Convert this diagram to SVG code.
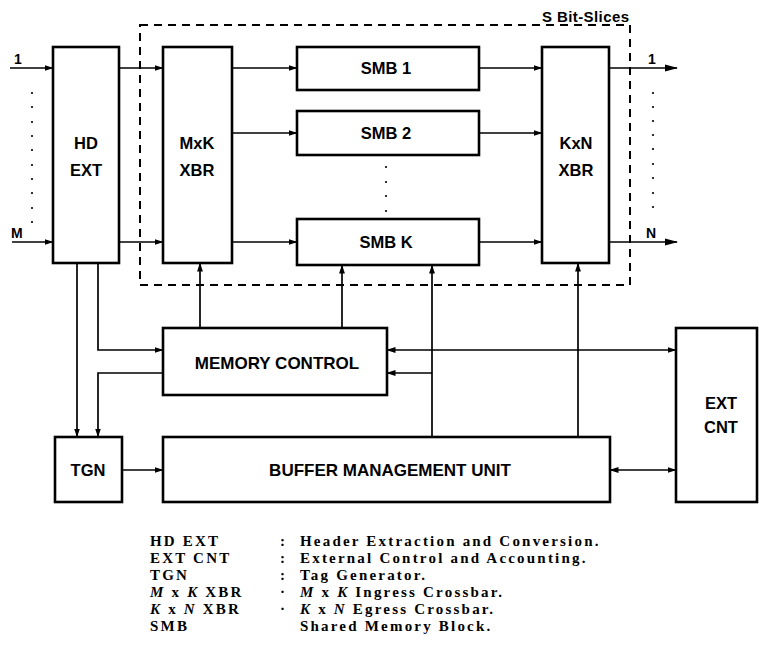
<svg xmlns="http://www.w3.org/2000/svg" width="759" height="647" viewBox="0 0 759 647">
<style>
.box{fill:#fff;stroke:#000;stroke-width:2.6}
.lbl{font-family:"Liberation Sans",Arial,sans-serif;font-weight:bold;font-size:16.5px;fill:#000;text-anchor:middle}
.io{font-family:"Liberation Sans",Arial,sans-serif;font-weight:bold;font-size:14px;fill:#000}
.ln{fill:none;stroke:#000;stroke-width:1.7}
.arr{marker-end:url(#ah)}
.bi{marker-start:url(#ah);marker-end:url(#ah)}
.dash{fill:none;stroke:#000;stroke-width:2;stroke-dasharray:8 6}
.dot{fill:#000}
.leg{font-family:"Liberation Serif","Times New Roman",serif;font-weight:bold;font-size:15px;fill:#000;letter-spacing:2.2px}
.legi{font-style:italic}
</style>
<defs>
<marker id="ah" markerUnits="userSpaceOnUse" markerWidth="9" markerHeight="7" refX="8.5" refY="3.5" orient="auto-start-reverse">
<path d="M0,0.6 L9,3.5 L0,6.4 Z" fill="#000"/>
</marker>
<marker id="ahb" markerUnits="userSpaceOnUse" markerWidth="13" markerHeight="8" refX="12" refY="4" orient="auto">
<path d="M0,0.5 L13,4 L0,7.5 Z" fill="#000"/>
</marker>
</defs>
<rect width="759" height="647" fill="#fff"/>

<g id="slices">
<rect class="dash" x="140" y="25" width="490" height="260"/>
<text class="io" x="542" y="22" style="font-size:15px" textLength="87">S Bit-Slices</text>
</g>

<g id="connectors">
<path class="ln arr" d="M10,68 H53"/>
<path class="ln arr" d="M12,242 H53"/>
<path class="ln arr" d="M119,68 H163"/>
<path class="ln arr" d="M119,242 H163"/>
<path class="ln arr" d="M232,68 H297"/>
<path class="ln arr" d="M232,133 H297"/>
<path class="ln arr" d="M232,242 H297"/>
<path class="ln arr" d="M479,68 H542"/>
<path class="ln arr" d="M479,133 H542"/>
<path class="ln arr" d="M479,242 H542"/>
<path class="ln" d="M609,68 H677" marker-end="url(#ahb)"/>
<path class="ln" d="M609,242 H677" marker-end="url(#ahb)"/>
<path class="ln arr" d="M77,263 V437"/>
<path class="ln arr" d="M98,263 V350 H163"/>
<path class="ln arr" d="M163,373 H98 V437"/>
<path class="ln arr" d="M200,328 V263"/>
<path class="ln arr" d="M342,328 V265"/>
<path class="ln arr" d="M432,437 V265"/>
<path class="ln arr" d="M432,373 H387"/>
<path class="ln arr" d="M578,437 V263"/>
<path class="ln bi" d="M387,350 H676"/>
<path class="ln arr" d="M122,470 H163"/>
<path class="ln bi" d="M610,470 H676"/>
</g>

<g id="io-labels">
<text class="io" x="14" y="64">1</text>
<text class="io" x="11" y="238">M</text>
<text class="io" x="648" y="64">1</text>
<text class="io" x="646" y="238">N</text>
<g class="dot">
<circle cx="32" cy="93" r="1.1"/><circle cx="32" cy="107" r="1.1"/><circle cx="32" cy="122" r="1.1"/><circle cx="32" cy="136" r="1.1"/><circle cx="32" cy="150" r="1.1"/><circle cx="32" cy="165" r="1.1"/><circle cx="32" cy="179" r="1.1"/><circle cx="32" cy="193" r="1.1"/><circle cx="32" cy="208" r="1.1"/><circle cx="32" cy="222" r="1.1"/>
<circle cx="653" cy="93" r="1.1"/><circle cx="653" cy="107" r="1.1"/><circle cx="653" cy="121" r="1.1"/><circle cx="653" cy="135" r="1.1"/><circle cx="653" cy="149" r="1.1"/><circle cx="653" cy="164" r="1.1"/><circle cx="653" cy="178" r="1.1"/><circle cx="653" cy="193" r="1.1"/><circle cx="653" cy="207" r="1.1"/>
<circle cx="386" cy="167" r="1.1"/><circle cx="386" cy="182" r="1.1"/><circle cx="386" cy="196" r="1.1"/><circle cx="386" cy="211" r="1.1"/>
</g>
</g>

<g id="hdext">
<rect class="box" x="53" y="47" width="66" height="216"/>
<text class="lbl" x="86" y="149">HD</text>
<text class="lbl" x="86" y="176">EXT</text>
</g>
<g id="mxk">
<rect class="box" x="163" y="47" width="69" height="216"/>
<text class="lbl" x="197" y="149">MxK</text>
<text class="lbl" x="197" y="176">XBR</text>
</g>
<g id="smb1">
<rect class="box" x="297" y="47" width="182" height="43"/>
<text class="lbl" x="386" y="74">SMB 1</text>
</g>
<g id="smb2">
<rect class="box" x="297" y="111" width="182" height="44"/>
<text class="lbl" x="386" y="139">SMB 2</text>
</g>
<g id="smbk">
<rect class="box" x="297" y="219" width="182" height="46"/>
<text class="lbl" x="386" y="248">SMB K</text>
</g>
<g id="kxn">
<rect class="box" x="542" y="47" width="67" height="216"/>
<text class="lbl" x="576" y="149">KxN</text>
<text class="lbl" x="576" y="176">XBR</text>
</g>
<g id="memctl">
<rect class="box" x="163" y="328" width="224" height="67"/>
<text class="lbl" x="277" y="369" style="font-size:17px">MEMORY CONTROL</text>
</g>
<g id="tgn">
<rect class="box" x="55" y="437" width="67" height="65"/>
<text class="lbl" x="88" y="476">TGN</text>
</g>
<g id="bmu">
<rect class="box" x="163" y="437" width="447" height="65"/>
<text class="lbl" x="390" y="476" style="font-size:17px">BUFFER MANAGEMENT UNIT</text>
</g>
<g id="extcnt">
<rect class="box" x="676" y="328" width="81" height="174"/>
<text class="lbl" x="721" y="409">EXT</text>
<text class="lbl" x="721" y="433">CNT</text>
</g>

<g id="legend">
<text class="leg" x="150" y="546">HD EXT</text>
<text class="leg" x="150" y="563">EXT CNT</text>
<text class="leg" x="150" y="580">TGN</text>
<text class="leg" x="150" y="597"><tspan class="legi">M</tspan> x <tspan class="legi">K</tspan> XBR</text>
<text class="leg" x="150" y="614"><tspan class="legi">K</tspan> x <tspan class="legi">N</tspan> XBR</text>
<text class="leg" x="150" y="631">SMB</text>
<text class="leg" x="280" y="546">:</text>
<text class="leg" x="280" y="563">:</text>
<text class="leg" x="280" y="580">:</text>
<text class="leg" x="280" y="597">·</text>
<text class="leg" x="280" y="614">·</text>
<text class="leg" x="300" y="546">Header Extraction and Conversion.</text>
<text class="leg" x="300" y="563">External Control and Accounting.</text>
<text class="leg" x="300" y="580">Tag Generator.</text>
<text class="leg" x="300" y="597"><tspan class="legi">M</tspan> x <tspan class="legi">K</tspan> Ingress Crossbar.</text>
<text class="leg" x="300" y="614"><tspan class="legi">K</tspan> x <tspan class="legi">N</tspan> Egress Crossbar.</text>
<text class="leg" x="300" y="631">Shared Memory Block.</text>
</g>
</svg>
